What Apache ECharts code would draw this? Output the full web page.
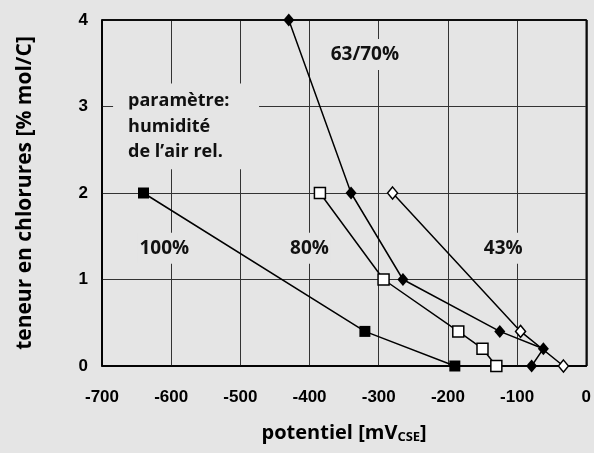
<!DOCTYPE html>
<html>
<head>
<meta charset="utf-8">
<script src="https://cdn.jsdelivr.net/npm/echarts@6/dist/echarts.min.js"></script>
<style>
  html, body { margin: 0; padding: 0; background: #e5e5e5; overflow: hidden; }
  #chart { width: 594px; height: 453px; }
</style>
</head>
<body>
<div id="chart"></div>
<script>
// potentiel [mV] / teneur en chlorures [% mol/C]
const hum100 = [[-640, 2], [-320, 0.4], [-190, 0]];
const hum80 = [[-385, 2], [-293, 1], [-185, 0.4], [-150, 0.2], [-130, 0]];
const hum6370 = [[-430, 4], [-340, 2], [-265, 1], [-125, 0.4], [-62, 0.2], [-79, 0]];
const hum43 = [[-280, 2], [-95, 0.4], [-33, 0]];

// quadrillage et cadre (valeurs des graduations)
const xGrid = [-600, -500, -400, -300, -200, -100];
const yGrid = [1, 2, 3];
const xFrame = [-700, 0];
const yFrame = [0, 4];

// étiquettes des courbes: [texte, x, y]
const curveLabels = [['100%', -610, 1.36], ['80%', -400, 1.36], ['43%', -120, 1.36], ['63/70%', -320, 3.6]];
const noteLines = ['paramètre:', 'humidité', 'de l\u2019air rel.'];
const noteX = -684;
const noteYs = [3.07, 2.77, 2.47];

const BG = '#e5e5e5';
const FONT = '"Open Sans", "Noto Sans", sans-serif';

function curve(data, symbol, size, filled) {
  return {
    type: 'line', data: data, symbol: symbol, symbolSize: size, z: 3,
    lineStyle: { color: '#000', width: 1.5 },
    itemStyle: filled ? { color: '#000' } : { color: '#fff', borderColor: '#000', borderWidth: 1.5 }
  };
}

const lblStyle = { fontFamily: FONT, fontWeight: 'bold', color: '#111', backgroundColor: BG };

const chart = echarts.init(document.getElementById('chart'));
chart.setOption({
  backgroundColor: BG,
  animation: false,
  grid: { left: 102, right: 4, top: 20, bottom: 87, show: true, borderColor: '#000', borderWidth: 1.5 },
  xAxis: {
    type: 'value', min: -700, max: 0, interval: 100,
    axisLine: { show: true, onZero: false, lineStyle: { color: '#000', width: 1.5 } },
    axisTick: { show: false },
    axisLabel: { color: '#000', fontFamily: 'Liberation Sans', fontWeight: 'bold', fontSize: 17, margin: 23 },
    splitLine: { show: true, lineStyle: { color: '#333', width: 1 } },
    name: '{a|potentiel [mV}{b|CSE}{a|]}',
    nameLocation: 'middle', nameGap: 56,
    nameTextStyle: {
      rich: {
        a: { fontFamily: FONT, fontWeight: 'bold', fontSize: 20, color: '#000' },
        b: { fontFamily: FONT, fontWeight: 'bold', fontSize: 13, color: '#000', padding: [9, 0, 0, 0] }
      }
    }
  },
  yAxis: {
    type: 'value', min: 0, max: 4, interval: 1,
    axisLine: { show: true, onZero: false, lineStyle: { color: '#000', width: 1.5 } },
    axisTick: { show: false },
    axisLabel: { color: '#000', fontFamily: 'Liberation Sans', fontWeight: 'bold', fontSize: 17, margin: 14 },
    splitLine: { show: true, lineStyle: { color: '#333', width: 1 } },
    name: 'teneur en chlorures [% mol/C]',
    nameLocation: 'middle', nameGap: 66,
    nameTextStyle: { fontFamily: FONT, fontWeight: 'bold', fontSize: 21, color: '#000' }
  },
  series: [
    // quadrillage redessiné en markLine (les splitLine ne s'affichent pas toujours)
    {
      type: 'line', data: hum100, z: 1, symbol: 'none', silent: true,
      lineStyle: { opacity: 0 },
      markLine: {
        silent: true, symbol: 'none', animation: false, z: 1,
        label: { show: false },
        emphasis: { disabled: true },
        lineStyle: { color: '#333', width: 1, type: 'solid' },
        data: [
          ...xGrid.map(v => ({ xAxis: v })),
          ...yGrid.map(v => ({ yAxis: v })),
          ...xFrame.map(v => ({ xAxis: v, lineStyle: { color: '#000', width: 1.5, type: 'solid' } })),
          ...yFrame.map(v => ({ yAxis: v, lineStyle: { color: '#000', width: 1.5, type: 'solid' } }))
        ]
      }
    },
    curve(hum100, 'rect', 11, true),
    curve(hum80, 'rect', 11, false),
    curve(hum6370, 'diamond', [11, 13], true),
    curve(hum43, 'diamond', [10, 12], false),
    {
      type: 'scatter', symbolSize: 0, z: 10, silent: true, itemStyle: { opacity: 1 },
      data: curveLabels.map(l => ({ name: l[0], value: [l[1], l[2]] })),
      label: Object.assign({ show: true, position: 'inside', formatter: p => p.name, fontSize: 19, padding: [6, 2] }, lblStyle)
    },
    {
      type: 'scatter', symbolSize: 0, z: 10, silent: true, itemStyle: { opacity: 1 },
      data: noteLines.map((t, i) => ({ name: t, value: [noteX, noteYs[i]] })),
      label: Object.assign({
        show: true, position: 'inside', align: 'left', verticalAlign: 'middle', formatter: p => p.name,
        fontSize: 18, width: 113, padding: [8, 18, 8, 15]
      }, lblStyle)
    }
  ]
});
</script>
</body>
</html>
